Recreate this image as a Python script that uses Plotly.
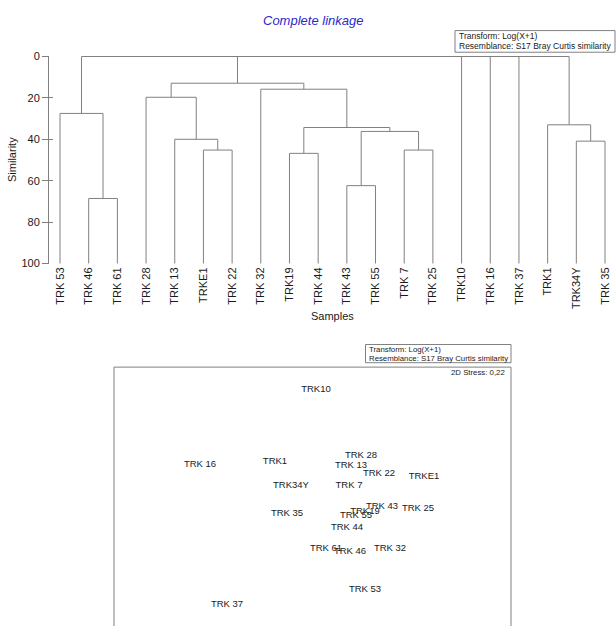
import plotly.graph_objects as go

W, H = 616, 626
FONT = "Arial, Liberation Sans, sans-serif"
GREY = "#808080"

# ---------------- Cluster dendrogram (complete linkage) ----------------
leaves = ["TRK 53", "TRK 46", "TRK 61", "TRK 28", "TRK 13", "TRKE1", "TRK 22",
          "TRK 32", "TRK19", "TRK 44", "TRK 43", "TRK 55", "TRK 7", "TRK 25",
          "TRK10", "TRK 16", "TRK 37", "TRK1", "TRK34Y", "TRK 35"]

# merge k creates node 20 + k from the two child nodes (leaves are 0..19)
merge_a = [1, 0, 5, 4, 3, 8, 10, 12, 26, 25, 7, 24, 18, 17, 21, 34, 35, 36, 37]
merge_b = [2, 20, 6, 22, 23, 9, 11, 13, 27, 28, 29, 30, 19, 32, 31, 14, 15, 16, 33]
merge_sim = [68.6, 27.5, 45.2, 40.0, 19.7, 46.8, 62.4, 45.2, 36.2, 34.3,
             15.8, 12.9, 40.9, 33.0, 0.0, 0.0, 0.0, 0.0, 0.0]

sim_ticks = [0, 20, 40, 60, 80, 100]

# ---------------- MDS ordination ----------------
mds_names = ["TRK10", "TRK 16", "TRK1", "TRK 28", "TRK 13", "TRK 22", "TRKE1",
             "TRK34Y", "TRK 7", "TRK 35", "TRK 43", "TRK 25", "TRK 55", "TRK19",
             "TRK 44", "TRK 61", "TRK 46", "TRK 32", "TRK 53", "TRK 37"]
mds_x = [0.04, -1.12, -0.37, 0.49, 0.39, 0.67, 1.12, -0.21, 0.37, -0.25,
         0.70, 1.06, 0.44, 0.53, 0.35, 0.14, 0.38, 0.78, 0.53, -0.85]
mds_y = [1.12, 0.35, 0.38, 0.45, 0.34, 0.26, 0.23, 0.14, 0.14, -0.14,
         -0.07, -0.09, -0.16, -0.12, -0.29, -0.50, -0.53, -0.50, -0.92, -1.07]
stress_text = "2D Stress: 0,22"
transform_text = "Transform: Log(X+1)"
resemblance_text = "Resemblance: S17 Bray Curtis similarity"


def px(x):
    return x / W


def py(y):
    return 1 - y / H


# build dendrogram line segments
n = len(leaves)
pos = {i: float(i) for i in range(n)}
height = {i: 100.0 for i in range(n)}
lx, ly = [], []
for k, (a, b, s) in enumerate(zip(merge_a, merge_b, merge_sim)):
    xa, xb = pos[a], pos[b]
    lx += [xa, xa, xb, xb, None]
    ly += [height[a], s, s, height[b], None]
    pos[n + k] = (xa + xb) / 2
    height[n + k] = s

fig = go.Figure()

fig.add_trace(go.Scatter(
    x=lx, y=ly, mode="lines", line=dict(color=GREY, width=1),
    xaxis="x", yaxis="y", showlegend=False, hoverinfo="skip"))

fig.add_trace(go.Scatter(
    x=mds_x, y=mds_y, mode="text", text=mds_names,
    textposition="middle center",
    textfont=dict(family=FONT, size=9.5, color="#1a1a1a"),
    xaxis="x2", yaxis="y2", showlegend=False, cliponaxis=False))

dend_dom_y = [py(263.5), py(51.5)]
x0_px, step = 60.0, (605.0 - 60.0) / 19
dom_left = 49.0

fig.update_layout(
    width=W, height=H,
    margin=dict(l=0, r=0, t=0, b=0),
    paper_bgcolor="white", plot_bgcolor="rgba(0,0,0,0)",
    font=dict(family=FONT, color="#1a1a1a"),
    xaxis=dict(
        domain=[px(dom_left), 1],
        range=[-(x0_px - dom_left) / step, 19 + (W - 605.0) / step],
        tickvals=list(range(n)), ticktext=leaves, tickangle=-90,
        ticks="", showline=False, showgrid=False, zeroline=False,
        tickfont=dict(size=11, color="#1a1a1a"), anchor="y"),
    yaxis=dict(
        domain=dend_dom_y, range=[100.4, -0.4],
        tickvals=sim_ticks, ticks="outside", ticklen=6, tickcolor=GREY,
        showline=True, linecolor=GREY, linewidth=1,
        showgrid=False, zeroline=False,
        tickfont=dict(size=11, color="#1a1a1a"), anchor="x"),
    yaxis3=dict(
        domain=dend_dom_y, range=[100.4, -0.4], overlaying="y",
        tickvals=sim_ticks, ticks="inside", ticklen=4, tickcolor=GREY,
        showticklabels=False, showline=False, showgrid=False,
        zeroline=False, anchor="x"),
    xaxis2=dict(
        domain=[px(114), px(511)], range=[-1.98, 1.99],
        visible=False, anchor="y2"),
    yaxis2=dict(
        domain=[0, py(368)], range=[-1.235, 1.345],
        visible=False, anchor="x2"),
)

# invisible trace keeping the overlay axis active
fig.add_trace(go.Scatter(x=[None], y=[None], xaxis="x", yaxis="y3",
                         showlegend=False, hoverinfo="skip"))

shapes = [
    # frame of the MDS plot (runs off the bottom of the page)
    dict(type="rect", xref="paper", yref="paper",
         x0=px(114), x1=px(511), y0=-0.05, y1=py(368),
         line=dict(color=GREY, width=1)),
    dict(type="rect", xref="paper", yref="paper",
         x0=px(455), x1=px(615), y0=py(48), y1=py(26),
         line=dict(color=GREY, width=1), fillcolor="white"),
    dict(type="rect", xref="paper", yref="paper",
         x0=px(365.5), x1=px(511), y0=py(363.5), y1=py(345),
         line=dict(color=GREY, width=1), fillcolor="white"),
]

ann = [
    dict(text="<i>Complete linkage</i>", x=px(313), y=py(16),
         font=dict(size=13, color="#2a2acc"), xanchor="center", yanchor="middle"),
    dict(text="Similarity", x=px(12), y=py(157.5), textangle=-90,
         font=dict(size=11, color="#1a1a1a"), xanchor="center", yanchor="middle"),
    dict(text="Samples", x=px(332.5), y=py(316.5),
         font=dict(size=11, color="#1a1a1a"), xanchor="center", yanchor="middle"),
    dict(text=transform_text, x=px(457), y=py(31),
         font=dict(size=8.5, color="#1a1a1a"), xanchor="left", yanchor="middle"),
    dict(text=resemblance_text, x=px(457), y=py(41.8),
         font=dict(size=8.5, color="#1a1a1a"), xanchor="left", yanchor="middle"),
    dict(text=transform_text, x=px(367), y=py(350.5),
         font=dict(size=7.8, color="#1a1a1a"), xanchor="left", yanchor="middle"),
    dict(text=resemblance_text, x=px(367), y=py(359.2),
         font=dict(size=7.8, color="#1a1a1a"), xanchor="left", yanchor="middle"),
    dict(text=stress_text, x=px(507), y=py(373.7),
         font=dict(size=7.8, color="#1a1a1a"), xanchor="right", yanchor="middle"),
]
for a in ann:
    a.update(xref="paper", yref="paper", showarrow=False)

fig.update_layout(shapes=shapes, annotations=ann)

fig.write_html("out.html")
